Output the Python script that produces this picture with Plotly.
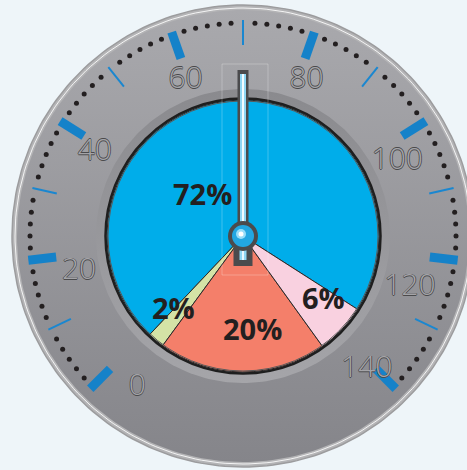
import math
import plotly.graph_objects as go

# ---------------- data ----------------
slice_names = ["Segment A", "Segment B", "Segment C", "Segment D"]
slice_values = [72, 2, 20, 6]
slice_text = ["72%", "2%", "20%", "6%"]
slice_colors = ["#00adea", "#d4e3a6", "#f47f6a", "#f9d1e0"]

scale_min = 0
scale_max = 140
major_ticks = [0, 20, 40, 60, 80, 100, 120, 140]
minor_ticks = [10, 30, 50, 70, 90, 110, 130]
tick_labels = ["0", "20", "40", "60", "80", "100", "120", "140"]
dots_per_interval = 5
needle_value = 70

# ---------------- geometry / style ----------------
W, H = 467, 470
CX, CY = 243, 236
SWEEP = 270.0
R_RIM, R_FACE, R_INNER, R_PIE = 231, 226, 147, 136
# pixel nudges of each tick label relative to its tick direction (style only)
label_nudge = [(13, 33), (3, 17), (-6, 6), (-2, 3), (8, 3), (12, 15), (0, 33), (5, 15)]


def ang(v):
    mid = (scale_min + scale_max) / 2
    return math.radians((v - mid) * SWEEP / (scale_max - scale_min))


def pt(v, r):
    a = ang(v)
    return CX + r * math.sin(a), CY - r * math.cos(a)


def circ(r, n=241):
    xs = [CX + r * math.cos(2 * math.pi * i / (n - 1)) for i in range(n)]
    ys = [CY + r * math.sin(2 * math.pi * i / (n - 1)) for i in range(n)]
    return xs, ys


fig = go.Figure()

# outer rim
x, y = circ(R_RIM)
fig.add_trace(go.Scatter(x=x, y=y, mode="lines", fill="toself", fillcolor="#b4b4b6",
                         line=dict(color="#9c9c9e", width=1.5), hoverinfo="skip"))
x, y = circ(R_RIM - 3)
fig.add_trace(go.Scatter(x=x, y=y, mode="lines", line=dict(color="rgba(255,255,255,0.85)", width=1),
                         hoverinfo="skip"))
# face
x, y = circ(R_FACE)
fig.add_trace(go.Scatter(x=x, y=y, mode="lines", fill="toself", line=dict(width=0, color="#999"),
                         fillgradient=dict(type="vertical", start=CY - R_FACE, stop=CY + R_FACE,
                                           colorscale=[[0, "#a9a9ad"], [1, "#85858a"]]),
                         hoverinfo="skip"))
# inner ring
x, y = circ(R_INNER)
fig.add_trace(go.Scatter(x=x, y=y, mode="lines", fill="toself", line=dict(width=0, color="#999"),
                         fillgradient=dict(type="vertical", start=CY - R_INNER, stop=CY + R_INNER,
                                           colorscale=[[0, "#8a8a8e"], [1, "#a5a5a9"]]),
                         hoverinfo="skip"))

# minor ticks
mx, my = [], []
for v in minor_ticks:
    x0, y0 = pt(v, 191)
    x1, y1 = pt(v, 216)
    mx += [x0, x1, None]
    my += [y0, y1, None]
fig.add_trace(go.Scatter(x=mx, y=my, mode="lines", line=dict(color="#1a87d0", width=2), hoverinfo="skip"))

# major ticks
Mx, My = [], []
for v in major_ticks:
    x0, y0 = pt(v, 188)
    x1, y1 = pt(v, 216)
    Mx += [x0, x1, None]
    My += [y0, y1, None]
fig.add_trace(go.Scatter(x=Mx, y=My, mode="lines", line=dict(color="#1582c9", width=9), hoverinfo="skip"))

# dots
step = 10 / (dots_per_interval + 1)
dx, dy = [], []
for i in range(int((scale_max - scale_min) / 10)):
    for j in range(1, dots_per_interval + 1):
        xx, yy = pt(scale_min + i * 10 + j * step, 213)
        dx.append(xx)
        dy.append(yy)
fig.add_trace(go.Scatter(x=dx, y=dy, mode="markers", marker=dict(color="#231f20", size=5),
                         hoverinfo="skip"))

# tick labels
lx, ly = [], []
for v, (nx, ny) in zip(major_ticks, label_nudge):
    xx, yy = pt(v, 168)
    lx.append(xx + nx)
    ly.append(yy + ny)
sh = "#4a4a4c"
fig.add_trace(go.Scatter(x=lx, y=ly, mode="text", text=tick_labels,
                         textfont=dict(family="Open Sans", size=30, color="#a4a4a8", weight=300,
                                       shadow=f"0.7px 0 0 {sh}, -0.7px 0 0 {sh}, 0 0.7px 0 {sh}, 0 -0.7px 0 {sh}"),
                         hoverinfo="skip"))

# pie (first slice spans clockwise from `rotation`; the rest follow counterclockwise)
boundary = 90 + math.degrees(math.atan2(73, 114))
rot = boundary - slice_values[0] / sum(slice_values) * 360
fig.add_trace(go.Pie(labels=slice_names, values=slice_values, sort=False, direction="counterclockwise",
                     rotation=rot, marker=dict(colors=slice_colors, line=dict(color="#2a2a2a", width=1)),
                     textinfo="none", hoverinfo="skip", showlegend=False,
                     domain=dict(x=[(CX - R_PIE) / W, (CX + R_PIE) / W],
                                 y=[(H - CY - R_PIE) / H, (H - CY + R_PIE) / H])))

shapes = []
# pie border
shapes.append(dict(type="circle", xref="x", yref="y", x0=CX - 137.5, x1=CX + 137.5, y0=CY - 137.5, y1=CY + 137.5,
                   line=dict(color="#1e1e1e", width=2.5), layer="above"))
shapes.append(dict(type="circle", xref="x", yref="y", x0=CX - 135, x1=CX + 135, y0=CY - 135, y1=CY + 135,
                   line=dict(color="#5a5a5a", width=1), layer="above"))
# faint glass box
shapes.append(dict(type="rect", xref="x", yref="y", x0=CX - 21, x1=CX + 25, y0=64, y1=275,
                   line=dict(color="rgba(255,255,255,0.25)", width=1), layer="above"))

# needle
NL = 166
tx, ty = pt(needle_value, NL)
tx2, ty2 = pt(needle_value, NL - 4)
bx, by = pt(needle_value, -30)
bx3, by3 = pt(needle_value, -24)
shapes.append(dict(type="line", xref="x", yref="y", x0=CX, y0=CY, x1=bx, y1=by,
                   line=dict(color="#4b4b4d", width=19), layer="above"))
shapes.append(dict(type="line", xref="x", yref="y", x0=CX, y0=CY, x1=tx, y1=ty,
                   line=dict(color="#4b4b4d", width=11), layer="above"))
shapes.append(dict(type="line", xref="x", yref="y", x0=CX, y0=CY, x1=tx2, y1=ty2,
                   line=dict(color="#8fd6f3", width=6), layer="above"))
shapes.append(dict(type="line", xref="x", yref="y", x0=CX, y0=CY, x1=tx2, y1=ty2,
                   line=dict(color="#f2fbff", width=2), layer="above"))
shapes.append(dict(type="line", xref="x", yref="y", x0=CX, y0=CY, x1=bx3, y1=by3,
                   line=dict(color="#8fd6f3", width=7), layer="above"))
shapes.append(dict(type="line", xref="x", yref="y", x0=CX, y0=CY, x1=bx3, y1=by3,
                   line=dict(color="#e8f8ff", width=2), layer="above"))
shapes.append(dict(type="circle", xref="x", yref="y", x0=CX - 15, x1=CX + 15, y0=CY - 15, y1=CY + 15,
                   fillcolor="#4b4b4d", line=dict(width=0), layer="above"))
shapes.append(dict(type="circle", xref="x", yref="y", x0=CX - 11, x1=CX + 11, y0=CY - 11, y1=CY + 11,
                   fillcolor="#22a7e2", line=dict(width=0), layer="above"))
shapes.append(dict(type="circle", xref="x", yref="y", x0=CX - 7, x1=CX + 3, y0=CY - 7, y1=CY + 3,
                   fillcolor="rgba(180,235,255,0.8)", line=dict(width=0), layer="above"))
shapes.append(dict(type="circle", xref="x", yref="y", x0=CX - 4.5, x1=CX + 0.5, y0=CY - 4.5, y1=CY + 0.5,
                   fillcolor="#ffffff", line=dict(width=0), layer="above"))

# percent labels
label_pos = [(202, 193), (173, 307), (252, 328), (323, 297)]
annotations = []
for t, (ax_, ay_) in zip(slice_text, label_pos):
    annotations.append(dict(x=ax_, y=ay_, xref="x", yref="y", text=t, showarrow=False,
                            font=dict(family="Open Sans", size=29, color="#231f20", weight=700)))

fig.update_layout(
    width=W, height=H, autosize=False,
    margin=dict(l=0, r=0, t=0, b=0),
    paper_bgcolor="#eef5f9", plot_bgcolor="#eef5f9",
    showlegend=False,
    xaxis=dict(range=[0, W], visible=False, fixedrange=True),
    yaxis=dict(range=[H, 0], visible=False, fixedrange=True),
    shapes=shapes, annotations=annotations,
)

fig.write_html("out.html", config={"displayModeBar": False},
               post_script="document.body.style.margin='0';document.body.style.background='#eef5f9';")
